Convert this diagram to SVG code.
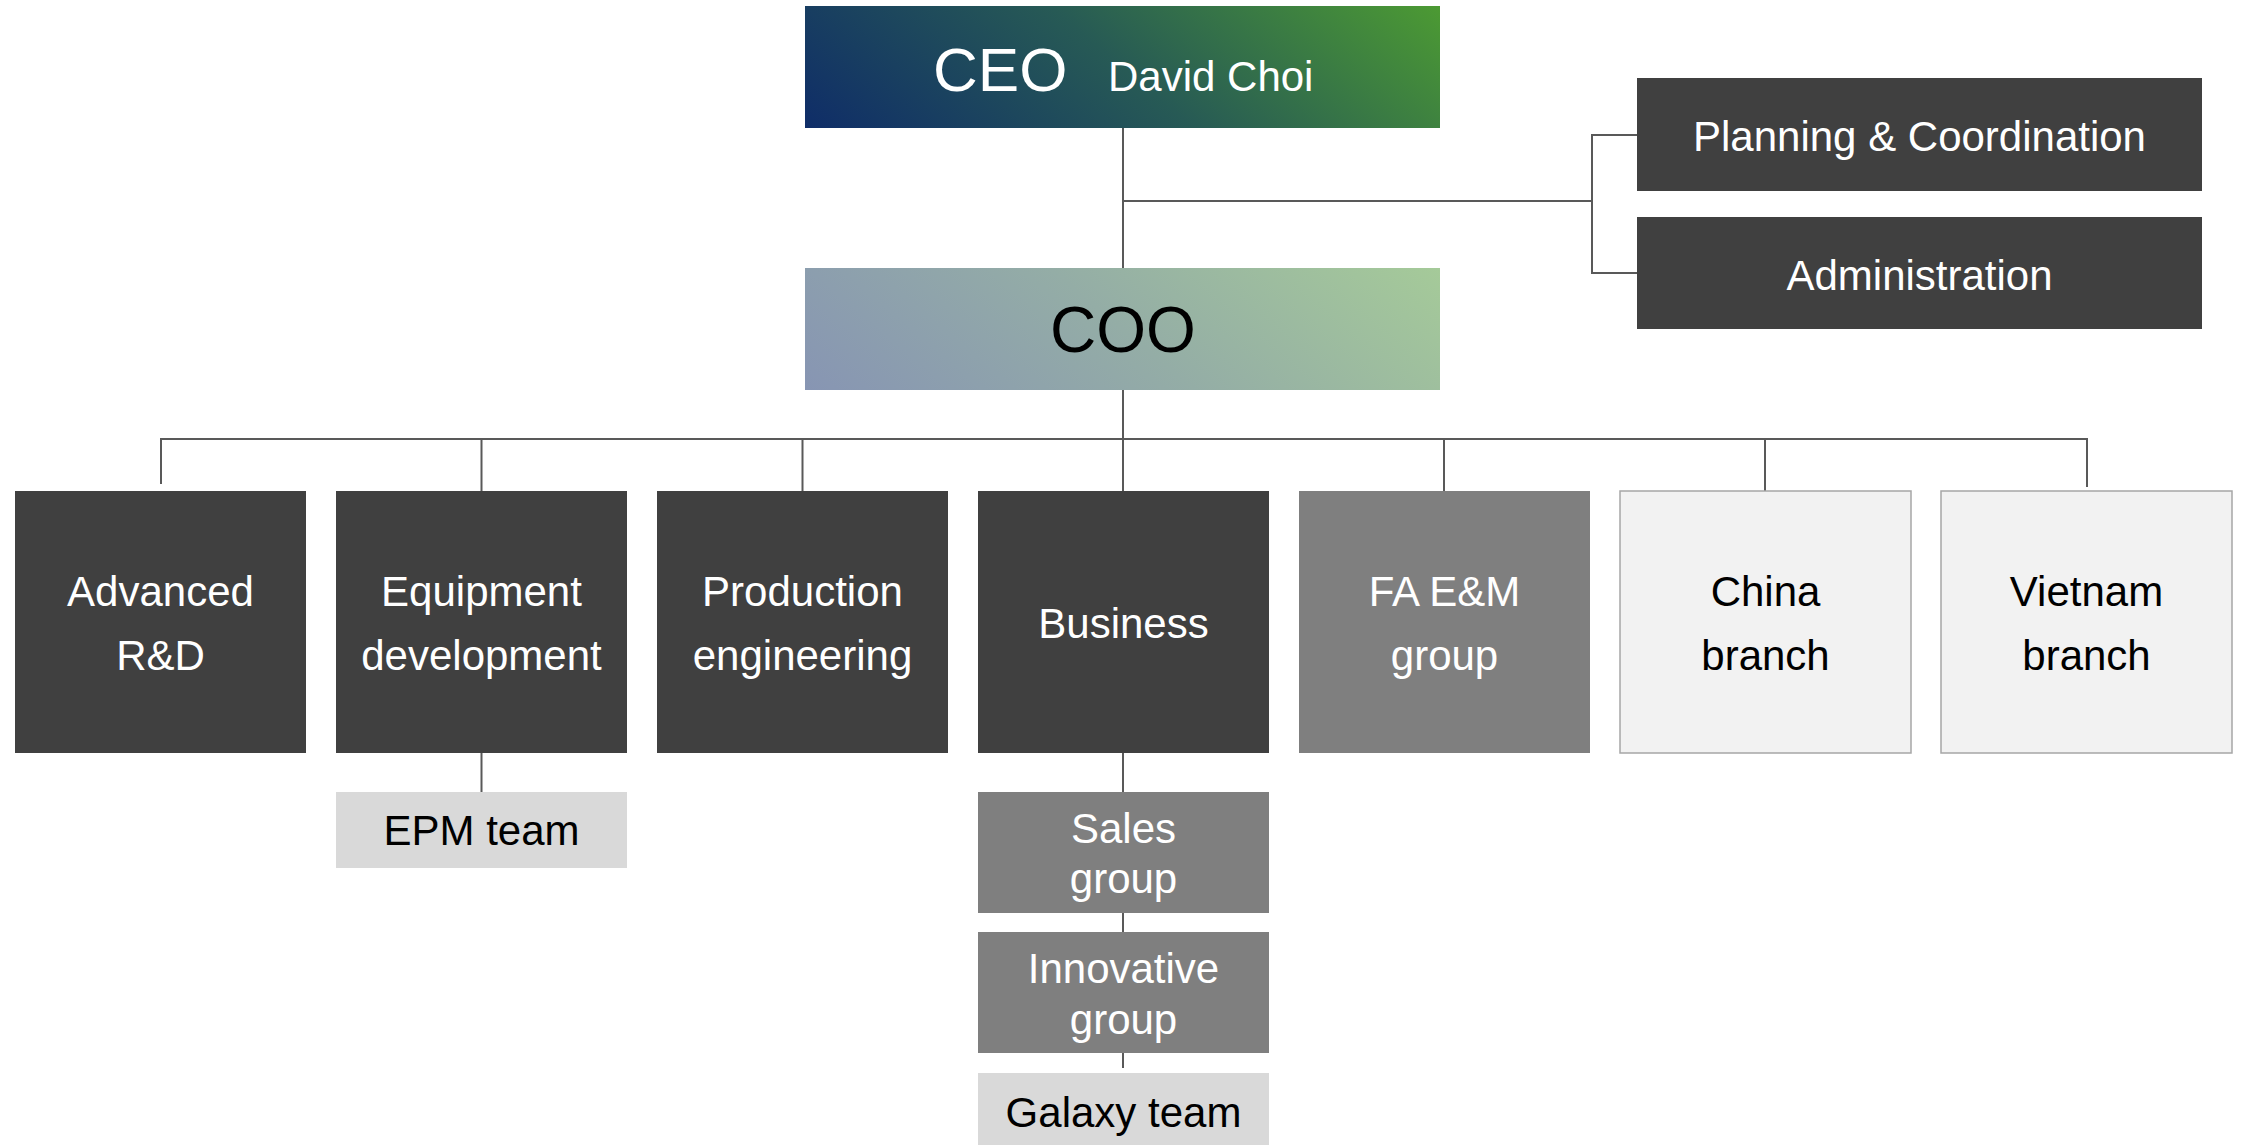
<svg xmlns="http://www.w3.org/2000/svg" width="2242" height="1145" viewBox="0 0 2242 1145">
  <defs>
    <linearGradient id="gCEO" gradientUnits="userSpaceOnUse" x1="961" y1="259" x2="1284" y2="-125">
      <stop offset="0" stop-color="#0f2d68"/>
      <stop offset="0.5" stop-color="#275a55"/>
      <stop offset="1" stop-color="#4c9a33"/>
    </linearGradient>
    <linearGradient id="gCOO" gradientUnits="userSpaceOnUse" x1="961" y1="521" x2="1284" y2="137">
      <stop offset="0" stop-color="#8795b3"/>
      <stop offset="0.5" stop-color="#94ada6"/>
      <stop offset="1" stop-color="#a5ca99"/>
    </linearGradient>
  </defs>
  <style>
    text { font-family: "Liberation Sans", Arial, sans-serif; font-size: 42px; text-anchor: middle; }
    .w { fill: #ffffff; }
    .k { fill: #000000; }
    .dark { fill: #404040; }
    .mid { fill: #7f7f7f; }
    .light { fill: #d9d9d9; }
    .pale { fill: #f2f2f2; stroke: #a6a6a6; stroke-width: 1.5; }
    .conn line { stroke: #595959; stroke-width: 2; fill: none; }
  </style>
  <rect width="2242" height="1145" fill="#ffffff"/>

  <g class="conn" id="connectors">
    <line x1="1123" y1="128" x2="1123" y2="268"/>
    <line x1="1123" y1="201" x2="1592" y2="201"/>
    <line x1="1592" y1="135" x2="1592" y2="273"/>
    <line x1="1591" y1="135" x2="1637" y2="135"/>
    <line x1="1591" y1="273" x2="1637" y2="273"/>
    <line x1="1123" y1="390" x2="1123" y2="491"/>
    <line x1="160.5" y1="439" x2="2087" y2="439"/>
    <line x1="161" y1="438" x2="161" y2="484"/>
    <line x1="481.5" y1="439" x2="481.5" y2="491"/>
    <line x1="802.5" y1="439" x2="802.5" y2="491"/>
    <line x1="1444" y1="439" x2="1444" y2="491"/>
    <line x1="1765" y1="439" x2="1765" y2="491"/>
    <line x1="2087" y1="438" x2="2087" y2="487"/>
    <line x1="481.5" y1="753" x2="481.5" y2="792"/>
    <line x1="1123" y1="753" x2="1123" y2="792"/>
    <line x1="1123" y1="913" x2="1123" y2="932"/>
    <line x1="1123" y1="1053" x2="1123" y2="1068"/>
  </g>

  <g id="ceo">
    <rect x="805" y="6" width="635" height="122" fill="url(#gCEO)"/>
    <text class="w" x="933" y="91" style="text-anchor:start;font-size:62px">CEO</text>
    <text class="w" x="1108" y="91" style="text-anchor:start">David Choi</text>
  </g>
  <g id="coo">
    <rect x="805" y="268" width="635" height="122" fill="url(#gCOO)"/>
    <text class="k" x="1123" y="352" style="font-size:64px">COO</text>
  </g>
  <g id="planning">
    <rect class="dark" x="1637" y="78" width="565" height="113"/>
    <text class="w" x="1919.5" y="151">Planning &amp; Coordination</text>
  </g>
  <g id="administration">
    <rect class="dark" x="1637" y="217" width="565" height="112"/>
    <text class="w" x="1919.5" y="290">Administration</text>
  </g>

  <g id="advanced-rd">
    <rect class="dark" x="15" y="491" width="291" height="262"/>
    <text class="w" x="160.5" y="606">Advanced</text>
    <text class="w" x="160.5" y="670">R&amp;D</text>
  </g>
  <g id="equipment-development">
    <rect class="dark" x="336" y="491" width="291" height="262"/>
    <text class="w" x="481.5" y="606">Equipment</text>
    <text class="w" x="481.5" y="670">development</text>
  </g>
  <g id="production-engineering">
    <rect class="dark" x="657" y="491" width="291" height="262"/>
    <text class="w" x="802.5" y="606">Production</text>
    <text class="w" x="802.5" y="670">engineering</text>
  </g>
  <g id="business">
    <rect class="dark" x="978" y="491" width="291" height="262"/>
    <text class="w" x="1123.5" y="638">Business</text>
  </g>
  <g id="fa-em-group">
    <rect class="mid" x="1299" y="491" width="291" height="262"/>
    <text class="w" x="1444.5" y="606">FA E&amp;M</text>
    <text class="w" x="1444.5" y="670">group</text>
  </g>
  <g id="china-branch">
    <rect class="pale" x="1620" y="491" width="291" height="262"/>
    <text class="k" x="1765.5" y="606">China</text>
    <text class="k" x="1765.5" y="670">branch</text>
  </g>
  <g id="vietnam-branch">
    <rect class="pale" x="1941" y="491" width="291" height="262"/>
    <text class="k" x="2086.5" y="606">Vietnam</text>
    <text class="k" x="2086.5" y="670">branch</text>
  </g>

  <g id="epm-team">
    <rect class="light" x="336" y="792" width="291" height="76"/>
    <text class="k" x="481.5" y="845">EPM team</text>
  </g>
  <g id="sales-group">
    <rect class="mid" x="978" y="792" width="291" height="121"/>
    <text class="w" x="1123.5" y="843">Sales</text>
    <text class="w" x="1123.5" y="893">group</text>
  </g>
  <g id="innovative-group">
    <rect class="mid" x="978" y="932" width="291" height="121"/>
    <text class="w" x="1123.5" y="983">Innovative</text>
    <text class="w" x="1123.5" y="1034">group</text>
  </g>
  <g id="galaxy-team">
    <rect class="light" x="978" y="1073" width="291" height="72"/>
    <text class="k" x="1123.5" y="1127">Galaxy team</text>
  </g>
</svg>
